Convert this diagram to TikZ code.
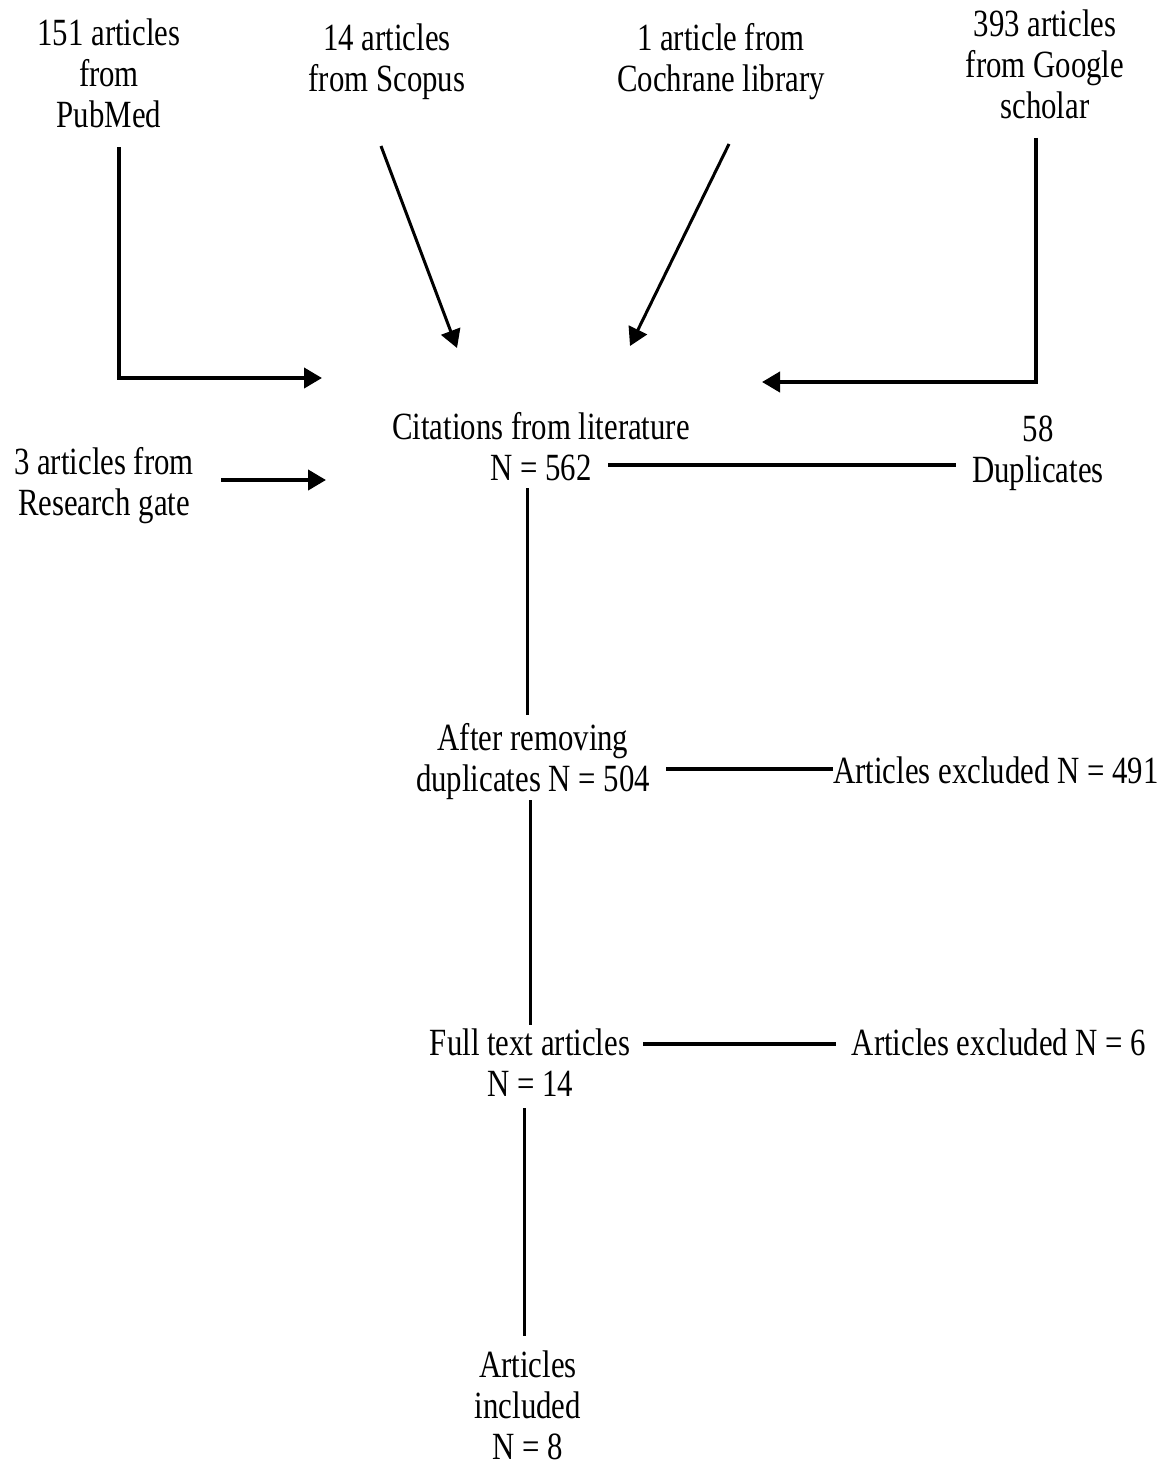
\documentclass[tikz,border=0pt]{standalone}
\usepackage{fontspec}
\setmainfont{Liberation Serif}
\usepackage{graphicx}
\usetikzlibrary{arrows.meta}
\newcommand{\stk}[1]{\scalebox{1}[1.25]{\fontsize{15.4pt}{16.4pt}\selectfont\begin{tabular}{@{}c@{}}#1\end{tabular}}}
\tikzset{
  lbl/.style={inner sep=0pt, outer sep=0pt},
  hconn/.style={line width=2pt},
  vconn/.style={line width=1.5pt},
  arr/.style={-{Triangle[length=9pt,width=10pt]}}
}
\begin{document}
\begin{tikzpicture}[x=0.5pt,y=-0.5pt]
\useasboundingbox (0,0) rectangle (1164,1461);
% labels
\node[lbl] (pub) at (109,78) {\stk{151 articles\\from\\PubMed}};
\node[lbl] (sco) at (387,63) {\stk{14 articles\\from Scopus}};
\node[lbl] (coc) at (721,63) {\stk{1 article from\\Cochrane library}};
\node[lbl] (goo) at (1045,69.5) {\stk{393 articles\\from Google\\scholar}};
\node[lbl] (rg) at (104,487) {\stk{3 articles from\\Research gate}};
\node[lbl] (cit) at (541,451.5) {\stk{Citations from literature\\N = 562}};
\node[lbl] (dup) at (1038,454) {\stk{58\\Duplicates}};
\node[lbl] (arm) at (533,762.5) {\stk{After removing\\duplicates N = 504}};
\node[lbl] (ex1) at (996,775) {\stk{Articles excluded N = 491}};
\node[lbl] (ft) at (530,1067.5) {\stk{Full text articles\\N = 14}};
\node[lbl] (ex2) at (999,1047) {\stk{Articles excluded N = 6}};
\node[lbl] (inc) at (528,1410) {\stk{Articles\\included\\N = 8}};
% connector end points
\coordinate (pubS) at (119,147);
\coordinate (pubE) at (322,378);
\coordinate (scoS) at (381,146);
\coordinate (scoE) at (457,348);
\coordinate (cocS) at (729,144);
\coordinate (cocE) at (630,346);
\coordinate (gooS) at (1036,138);
\coordinate (gooE) at (762,382);
\coordinate (rgS) at (221,480);
\coordinate (rgE) at (326,480);
\coordinate (citR) at (608,465);
\coordinate (dupL) at (956,465);
\coordinate (citB) at (527,488);
\coordinate (armT) at (527,715);
\coordinate (armR) at (666,769);
\coordinate (ex1L) at (833,769);
\coordinate (armB) at (530,800);
\coordinate (ftT) at (530,1025);
\coordinate (ftR) at (643,1044);
\coordinate (ex2L) at (836,1044);
\coordinate (ftB) at (524,1108);
\coordinate (incT) at (524,1336);
% connectors
\draw[hconn,arr] (pubS) |- (pubE);
\draw[vconn,arr] (scoS) -- (scoE);
\draw[vconn,arr] (cocS) -- (cocE);
\draw[hconn,arr] (gooS) |- (gooE);
\draw[hconn,arr] (rgS) -- (rgE);
\draw[hconn] (citR) -- (dupL);
\draw[vconn] (citB) -- (armT);
\draw[hconn] (armR) -- (ex1L);
\draw[vconn] (armB) -- (ftT);
\draw[hconn] (ftR) -- (ex2L);
\draw[vconn] (ftB) -- (incT);
\end{tikzpicture}
\end{document}
